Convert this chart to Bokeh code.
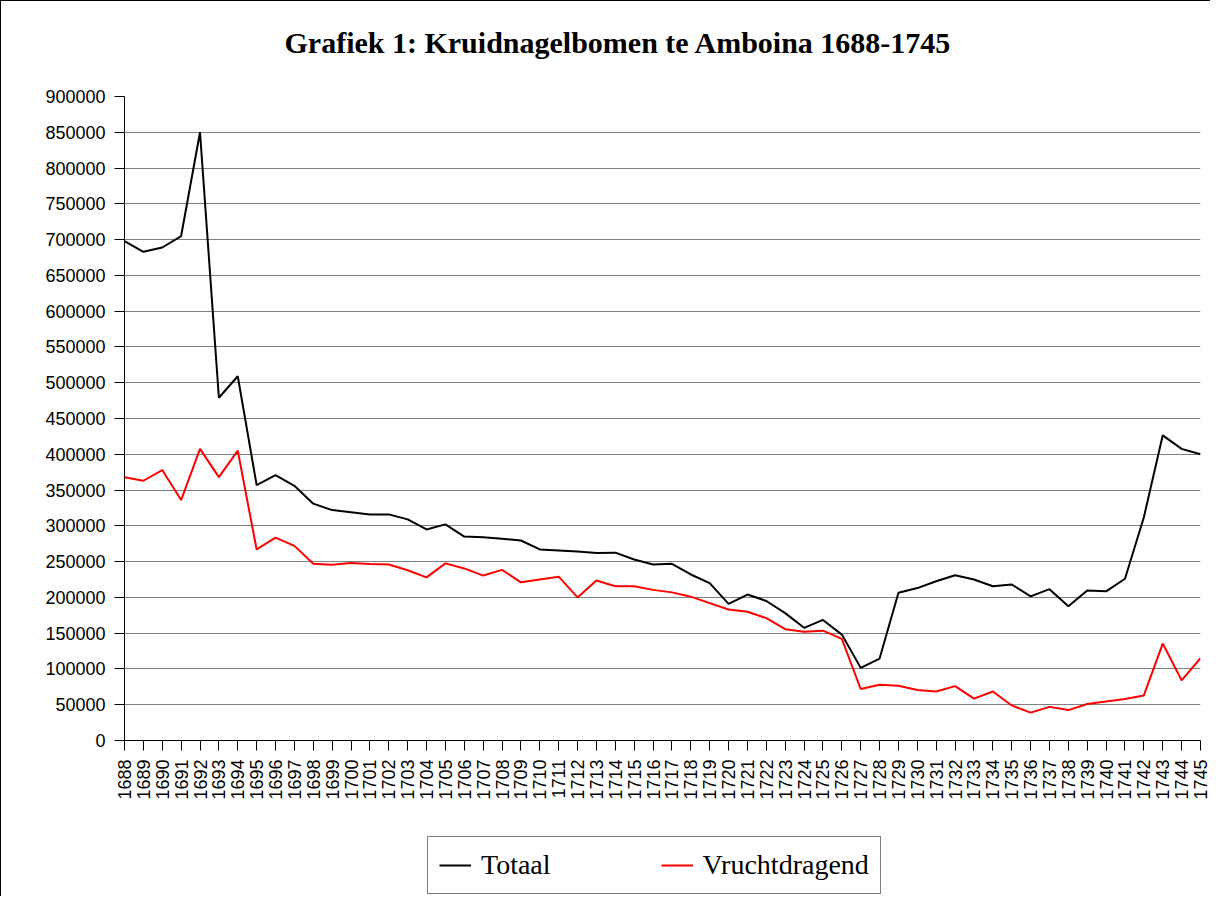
from math import pi
from bokeh.plotting import figure
from bokeh.layouts import column
from bokeh.models import Range1d, FixedTicker, Title, Legend, LegendItem, BasicTickFormatter
from bokeh.embed import file_html
from bokeh.resources import INLINE

years = list(range(1688, 1746))
totaal = [698000, 683000, 689000, 705000, 850000, 479000, 509000, 357000, 371000, 356000,
          331000, 322000, 319000, 316000, 316000, 309000, 295000, 302000, 285000, 284000,
          282000, 279500, 267000, 265500, 264000, 262000, 262500, 253000, 246000, 247000,
          232000, 220000, 191000, 204000, 195000, 178000, 157500, 168500, 148000, 101500,
          114500, 206500, 213000, 222500, 231000, 225000, 215500, 218000, 201500, 211500,
          187500, 209500, 208500, 226000, 312000, 426500, 407500, 400000]
vruchtdragend = [368000, 363000, 378000, 336000, 407500, 368000, 405000, 267000, 283500, 272000,
                 247000, 245500, 248000, 246500, 246000, 238000, 228000, 247500, 240500, 230500,
                 238500, 221000, 225000, 229000, 200000, 223500, 215500, 215500, 210500, 207000,
                 201000, 192000, 183000, 180000, 171000, 155500, 152000, 153500, 142000, 72000,
                 78000, 76500, 70500, 68500, 76000, 58500, 68500, 49000, 39000, 47000,
                 42500, 51000, 54500, 58000, 63000, 135500, 84000, 115000]
y_ticks = list(range(0, 900001, 50000))
title_text = "Grafiek 1: Kruidnagelbomen te Amboina 1688-1745"
series_names = ["Totaal", "Vruchtdragend"]
series_colors = ["black", "#ff0000"]

# ---- main chart ----
p = figure(frame_width=1076, frame_height=644,
           min_border_left=123, min_border_top=95, min_border_right=10, min_border_bottom=70,
           x_range=Range1d(1688, 1745), y_range=Range1d(0, 900000),
           output_backend="svg", toolbar_location=None)
p.outline_line_color = None
p.background_fill_color = "white"
p.border_fill_color = "white"

p.xaxis.ticker = FixedTicker(ticks=years)
p.xaxis.major_label_orientation = pi / 2
p.yaxis.ticker = FixedTicker(ticks=y_ticks)
p.yaxis.formatter = BasicTickFormatter(use_scientific=False)
for ax in (p.xaxis, p.yaxis):
    ax.axis_line_color = "black"
    ax.axis_line_width = 1
    ax.major_tick_line_color = "black"
    ax.major_tick_in = 0
    ax.major_tick_out = 10
    ax.minor_tick_line_color = None
    ax.major_label_text_font = "Liberation Sans"
    ax.major_label_text_font_size = "18px"
    ax.major_label_text_color = "black"
    ax.major_label_standoff = 9
p.xgrid.visible = False
p.ygrid.grid_line_color = "#808080"
p.ygrid.grid_line_width = 1

p.line(years, totaal, line_color=series_colors[0], line_width=2)
p.line(years, vruchtdragend, line_color=series_colors[1], line_width=2)

spacer = Title(text=" ", align="left", standoff=23, text_font_size="10px", text_color="white")
p.add_layout(spacer, "above")
title = Title(text=title_text, align="left", offset=160, standoff=0, vertical_align="top",
              text_font="Liberation Serif", text_font_style="bold", text_font_size="30px",
              text_color="black")
p.add_layout(title, "above")

# ---- legend strip below the chart (same horizontal frame as the chart) ----
lg = figure(frame_width=1076, frame_height=60,
            min_border_left=123, min_border_right=10, min_border_top=26, min_border_bottom=0,
            x_range=Range1d(0, 1), y_range=Range1d(0, 1),
            x_axis_location=None, y_axis_location=None,
            output_backend="svg", toolbar_location=None)
lg.outline_line_color = None
lg.grid.visible = False
lg.background_fill_color = "white"
lg.border_fill_color = "white"
# proxies for the legend keys (their data lie outside this strip's ranges, so only the keys show)
k1 = lg.line(years, totaal, line_color=series_colors[0], line_width=2)
k2 = lg.line(years, vruchtdragend, line_color=series_colors[1], line_width=2)
legend = Legend(items=[LegendItem(label=series_names[0], renderers=[k1]),
                       LegendItem(label=series_names[1], renderers=[k2])],
                location=(303, 2), orientation="horizontal",
                border_line_color="black", border_line_width=1,
                background_fill_color="white", background_fill_alpha=1,
                label_text_font="Liberation Serif", label_text_font_size="28px",
                label_text_color="black",
                glyph_width=32, glyph_height=34, label_standoff=10, spacing=110,
                padding=11, margin=0)
lg.add_layout(legend)

layout = column(p, lg, spacing=0,
                styles={"border-left": "1px solid black", "border-top": "1px solid black"})

open("out.html", "w").write(file_html(layout, INLINE))
